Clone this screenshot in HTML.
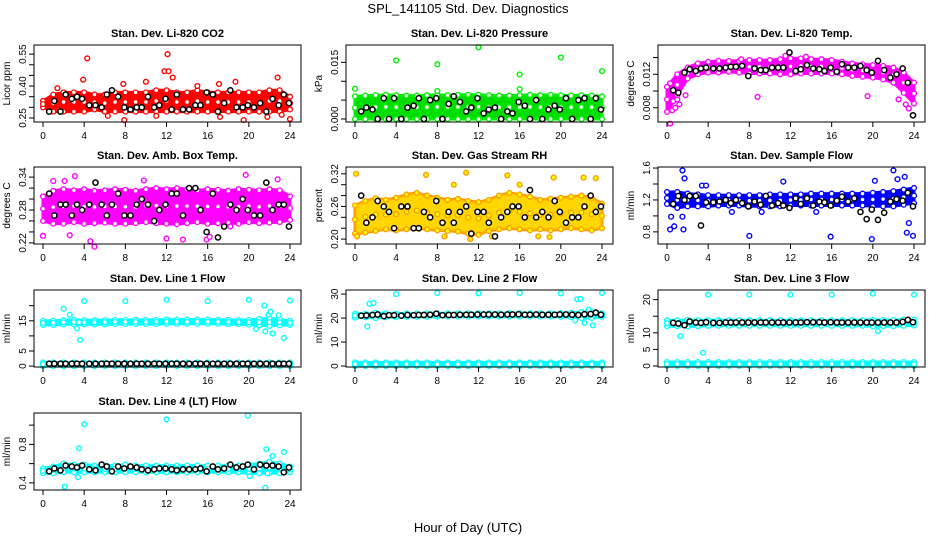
<!DOCTYPE html>
<html><head><meta charset="utf-8">
<style>
html,body{margin:0;padding:0;background:#fff;}
svg{display:block;font-family:"Liberation Sans",sans-serif;}
</style></head>
<body>
<svg id="chart" width="936" height="540" viewBox="0 0 936 540" xmlns="http://www.w3.org/2000/svg">
<rect x="0" y="0" width="936" height="540" fill="#fff"/>
<text x="468" y="13" font-size="13" text-anchor="middle">SPL_141105  Std. Dev. Diagnostics</text>
<text x="468" y="532" font-size="13" text-anchor="middle">Hour of Day (UTC)</text>
</svg>
<script>
// ---- shared data ----
const xTicks = [0,4,8,12,16,20,24];
const bandHours = [0,1,2,3,4,5,6,7,8,9,10,11,12,13,14,15,16,17,18,19,20,21,22,23,24];
const blackHours = [0.6,1.1,1.7,2.2,2.8,3.3,3.8,4.5,5.1,5.7,6.2,6.7,7.3,7.9,8.5,9.1,9.6,10.2,10.8,11.3,11.9,12.5,13.0,13.6,14.2,14.8,15.3,15.9,16.5,17.0,17.6,18.2,18.8,19.4,19.9,20.5,21.1,21.7,22.3,22.9,23.4,23.9];

// CO2
const co2Lo = [0.30,0.28,0.28,0.28,0.28,0.29,0.28,0.28,0.28,0.28,0.28,0.28,0.28,0.28,0.28,0.28,0.28,0.28,0.28,0.28,0.28,0.28,0.28,0.28,0.29];
const co2Hi = [0.33,0.36,0.37,0.37,0.37,0.36,0.36,0.37,0.37,0.37,0.37,0.38,0.38,0.37,0.37,0.38,0.37,0.37,0.37,0.37,0.37,0.37,0.38,0.38,0.35];
const co2OutX = [4.3,12.1,11.8,12.2,3.9,10,12.6,7.8,7.9,19.5,24,22.8,17.1,18.7,6.3,11,17.2,21.8,23.2,1.4,15];
const co2OutY = [0.53,0.55,0.47,0.47,0.43,0.42,0.44,0.41,0.24,0.24,0.245,0.44,0.41,0.42,0.26,0.26,0.255,0.255,0.265,0.39,0.40];
const co2Black = [0.28,0.33,0.28,0.36,0.34,0.35,0.34,0.31,0.31,0.30,0.36,0.38,0.35,0.30,0.29,0.30,0.30,0.35,0.30,0.31,0.34,0.29,0.36,0.29,0.29,0.31,0.31,0.37,0.36,0.28,0.32,0.38,0.30,0.30,0.31,0.30,0.32,0.28,0.34,0.31,0.36,0.32];
const co2Ticks = [0.25,0.30,0.35,0.40,0.45,0.50,0.55];
const co2Labels = ["0.25","","","0.40","","","0.55"];

// Pressure
const presLo = [0,0,0,0,0,0,0,0,0,0,0,0,0,0,0,0,0,0,0,0,0,0,0,0,0];
const presHi = [0.0060,0.0062,0.0063,0.0064,0.0063,0.0062,0.0062,0.0063,0.0064,0.0063,0.0064,0.0064,0.0064,0.0063,0.0062,0.0062,0.0063,0.0064,0.0063,0.0064,0.0063,0.0062,0.0063,0.0062,0.0060];
const presOutX = [0,4,8,12,16,20,24,8,16];
const presOutY = [0.008,0.0155,0.0145,0.019,0.0118,0.0163,0.0127,0.0074,0.0079];
const presBlack = [0.002,0.003,0.0025,0.000,0.0055,0.000,0.0055,0.000,0.003,0.0035,0.0055,0.000,0.005,0.0055,0.000,0.004,0.006,0.0045,0.002,0.003,0.0055,0.0015,0.0025,0.003,0.000,0.002,0.0015,0.0045,0.0035,0.000,0.005,0.000,0.0025,0.0035,0.0025,0.0055,0.000,0.005,0.0055,0.000,0.0055,0.0025];
const presTicks = [0,0.005,0.010,0.015];
const presLabels = ["0.000","","","0.015"];

// Li-820 Temp
const tempLo = [0.0075,0.0095,0.0115,0.0120,0.0122,0.0122,0.0123,0.0122,0.0121,0.0121,0.0121,0.0120,0.0120,0.0121,0.0121,0.0121,0.0121,0.0120,0.0118,0.0117,0.0116,0.0114,0.0110,0.0098,0.0085];
const tempHi = [0.0105,0.0120,0.0128,0.0133,0.0135,0.0136,0.0136,0.0136,0.0137,0.0137,0.0137,0.0138,0.0139,0.0139,0.0138,0.0138,0.0137,0.0135,0.0133,0.0132,0.0131,0.0130,0.0128,0.0122,0.0110];
const tempOutX = [0.3,0.5,0.8,0.6,1.0,0.3,1.2,8.8,7.2,11.5,13.5,19.5,22.5,23.5,23.2,24,1.8];
const tempOutY = [0.0061,0.0077,0.0080,0.0088,0.0090,0.0109,0.0084,0.0093,0.0138,0.0142,0.0141,0.0094,0.0090,0.0079,0.0084,0.0097,0.0095];
const tempBlack = [0.0101,0.0098,0.0122,0.0126,0.0124,0.0127,0.0128,0.0127,0.0127,0.0128,0.0129,0.0129,0.0130,0.0118,0.0127,0.0125,0.0125,0.0128,0.0128,0.0128,0.0146,0.0124,0.0126,0.0131,0.0127,0.0126,0.0124,0.0128,0.0123,0.0132,0.0128,0.0128,0.0130,0.0125,0.0122,0.0136,0.0125,0.0116,0.0120,0.0127,0.0110,0.0071];
const tempTicks = [0.008,0.010,0.012,0.014];
const tempLabels = ["0.008","","0.012",""];

// Amb box temp
const ambLo = [0.260,0.255,0.255,0.258,0.255,0.256,0.257,0.255,0.255,0.256,0.258,0.256,0.255,0.254,0.256,0.258,0.255,0.256,0.257,0.255,0.258,0.256,0.257,0.258,0.262];
const ambHi = [0.305,0.315,0.318,0.316,0.318,0.315,0.316,0.318,0.317,0.315,0.318,0.320,0.318,0.320,0.318,0.316,0.318,0.317,0.315,0.318,0.317,0.316,0.318,0.316,0.305];
const ambOutX = [0,4.6,5,2.6,3.1,1,9.8,19.7,22.8,12,15.9,16.2,13.6,18.2,2.1];
const ambOutY = [0.233,0.223,0.213,0.234,0.342,0.333,0.334,0.344,0.336,0.228,0.226,0.231,0.226,0.250,0.333];
const ambBlack = [0.31,0.27,0.29,0.29,0.27,0.29,0.28,0.29,0.33,0.29,0.27,0.29,0.31,0.27,0.27,0.29,0.30,0.29,0.26,0.28,0.29,0.31,0.31,0.27,0.32,0.32,0.28,0.24,0.31,0.23,0.25,0.29,0.28,0.30,0.28,0.27,0.27,0.33,0.28,0.29,0.29,0.25];
const ambTicks = [0.22,0.24,0.26,0.28,0.30,0.32,0.34];
const ambLabels = ["0.22","","","0.28","","","0.34"];

// Gas stream RH
const rhLo = [0.210,0.212,0.215,0.218,0.216,0.218,0.220,0.218,0.216,0.215,0.214,0.210,0.208,0.215,0.218,0.220,0.218,0.216,0.218,0.216,0.218,0.220,0.218,0.216,0.220];
const rhHi = [0.262,0.270,0.275,0.272,0.276,0.282,0.285,0.280,0.276,0.272,0.274,0.270,0.268,0.272,0.280,0.285,0.282,0.278,0.272,0.274,0.276,0.278,0.280,0.276,0.265];
const rhOutX = [0.1,6.9,10.8,14.8,19.3,22.2,23.4,9.6,16,11.2,13.3,17.8,18.9,8.7,0.2];
const rhOutY = [0.320,0.318,0.322,0.317,0.313,0.313,0.312,0.300,0.300,0.200,0.205,0.205,0.204,0.205,0.205];
const rhBlack = [0.28,0.23,0.24,0.27,0.26,0.25,0.22,0.26,0.26,0.22,0.22,0.25,0.24,0.27,0.23,0.25,0.23,0.25,0.26,0.21,0.25,0.25,0.23,0.205,0.24,0.25,0.26,0.26,0.24,0.29,0.24,0.25,0.24,0.27,0.25,0.23,0.24,0.24,0.26,0.28,0.25,0.26];
const rhTicks = [0.20,0.22,0.24,0.26,0.28,0.30,0.32];
const rhLabels = ["0.20","","","0.26","","","0.32"];

// Sample flow
const sfLo = [1.15,1.10,1.12,1.12,1.12,1.13,1.13,1.13,1.12,1.12,1.12,1.12,1.13,1.13,1.13,1.13,1.13,1.13,1.13,1.13,1.12,1.12,1.12,1.14,1.16];
const sfHi = [1.30,1.30,1.28,1.27,1.26,1.26,1.26,1.26,1.26,1.26,1.27,1.27,1.27,1.27,1.28,1.28,1.28,1.28,1.28,1.28,1.29,1.30,1.31,1.33,1.35];
const sfOutX = [1.5,1.7,3.4,3.8,0.3,0.7,1.6,0.4,1.5,8,15.9,19.9,22,22.4,23.1,23.5,23.3,23.9,20.2,11.3,14.5,9.2,6.3];
const sfOutY = [1.57,1.47,1.38,1.38,0.83,0.87,0.83,0.99,0.99,0.75,0.74,0.71,1.57,1.46,1.49,0.91,0.79,0.75,1.44,1.43,1.05,1.05,1.05];
const sfBlack = [1.15,1.25,1.2,1.25,1.25,0.88,1.17,1.17,1.18,1.2,1.16,1.2,1.16,1.12,1.18,1.14,1.25,1.13,1.16,1.13,1.1,1.22,1.15,1.22,1.13,1.18,1.17,1.13,1.19,1.24,1.18,1.22,1.05,0.96,1.08,0.95,1.04,1.18,1.21,1.19,1.29,1.12];
const sfTicks = [0.8,1.0,1.2,1.4,1.6];
const sfLabels = ["0.8","","1.2","","1.6"];

// Line 1
const l1Lo = [13.6,13.6,13.8,13.8,13.8,13.8,13.8,13.9,13.9,13.9,13.9,13.9,14.0,14.0,14.0,14.0,14.0,14.0,13.9,13.9,13.7,13.5,13.3,13.5,13.6];
const l1Hi = [15.0,15.0,15.2,15.3,15.2,15.2,15.2,15.3,15.3,15.3,15.3,15.3,15.4,15.4,15.4,15.4,15.4,15.3,15.3,15.2,15.3,15.6,15.8,15.5,15.0];
const l1ZeroHi = [1.2,1.2,1.2,1.2,1.2,1.2,1.2,1.2,1.2,1.2,1.2,1.2,1.2,1.2,1.2,1.2,1.2,1.2,1.2,1.2,1.2,1.2,1.2,1.2,1.2];
const l1OutX = [2.6,3.5,3.3,3.6,2,4,8,12,16,20,24,21.5,21.9,22.1,21.6,22.3,23.4,22.9,20.7];
const l1OutY = [17,14.5,12.5,8.7,19,21.5,21.5,22,21.5,22,21.7,20,17,18,11.5,10.8,9.3,16.8,12.3];
const l1Black = [0.8,0.8,0.8,0.8,0.8,0.8,0.8,0.8,0.8,0.8,0.8,0.8,0.8,0.8,0.8,0.8,0.8,0.8,0.8,0.8,0.8,0.8,0.8,0.8,0.8,0.8,0.8,0.8,0.8,0.8,0.8,0.8,0.8,0.8,0.8,0.8,0.8,0.8,0.8,0.8,0.8,0.8];
const l1Ticks = [0,5,10,15,20];
const l1Labels = ["0","5","","15",""];

// Line 2
const l2Lo = [20.2,20.3,20.0,20.3,20.4,20.5,20.5,20.5,20.6,20.6,20.6,20.6,20.6,20.6,20.6,20.6,20.6,20.6,20.6,20.6,20.5,20.4,20.0,20.0,20.5];
const l2Hi = [21.8,21.8,22.2,22.0,21.9,21.9,21.9,22.0,22.0,22.0,22.0,22.0,22.0,22.0,22.0,22.1,22.1,22.0,22.0,22.0,22.0,22.2,22.5,22.6,22.0];
const l2ZeroHi = [1.5,1.5,1.5,1.5,1.5,1.5,1.5,1.5,1.5,1.5,1.5,1.5,1.5,1.5,1.5,1.5,1.5,1.5,1.5,1.5,1.5,1.5,1.5,1.5,1.5];
const l2OutX = [1.4,1.8,1.2,4,8,12,16,20,24,21.6,21.9,21.4,22.3,23.1,22.7];
const l2OutY = [26,26.3,16.5,30,30.5,30.3,30.5,30.3,30.5,27.8,28,19,18,17,23.5];
const l2Black = [21.0,21.1,21.3,21.5,20.8,21.2,21.2,21.0,21.3,21.2,21.3,21.3,21.4,21.8,21.2,21.3,21.3,21.4,21.4,21.4,21.5,21.5,21.5,21.5,21.4,21.5,21.5,21.6,21.4,21.4,21.5,21.4,21.4,21.4,21.5,21.5,21.4,21.3,21.6,21.7,22.3,21.4];
const l2Ticks = [0,10,20,30];
const l2Labels = ["0","10","20","30"];

// Line 3
const l3Lo = [12.0,12.0,11.9,12.0,12.1,12.1,12.1,12.1,12.1,12.1,12.1,12.1,12.1,12.1,12.1,12.1,12.1,12.1,12.1,12.1,11.9,12.0,12.0,12.1,12.2];
const l3Hi = [13.8,13.8,13.9,13.8,13.8,13.8,13.8,13.8,13.8,13.8,13.8,13.8,13.8,13.8,13.8,13.8,13.8,13.8,13.8,13.8,13.9,13.9,13.9,14.0,14.0];
const l3ZeroHi = [1.2,1.2,1.2,1.2,1.2,1.2,1.2,1.2,1.2,1.2,1.2,1.2,1.2,1.2,1.2,1.2,1.2,1.2,1.2,1.2,1.2,1.2,1.2,1.2,1.2];
const l3OutX = [1.3,3.5,4,8,12,16,20,24,20.5];
const l3OutY = [9,4,21.5,21.5,21.5,21.5,21.8,21.5,10.5];
const l3Black = [13.0,12.8,12.3,13.4,13.1,13.0,13.2,13.0,13.0,13.1,13.1,13.1,13.1,13.1,13.1,13.1,13.1,13.1,13.1,13.1,13.1,13.1,13.1,13.2,13.2,13.2,13.1,13.2,13.1,13.1,13.1,13.1,13.1,13.1,13.1,13.1,13.1,13.1,13.1,13.3,13.9,13.2];
const l3Ticks = [0,5,10,15,20];
const l3Labels = ["0","5","10","","20"];

// Line 4
const l4Lo = [0.50,0.50,0.51,0.51,0.51,0.51,0.51,0.51,0.51,0.51,0.51,0.51,0.51,0.51,0.51,0.51,0.51,0.51,0.51,0.51,0.50,0.50,0.50,0.50,0.51];
const l4Hi = [0.55,0.57,0.60,0.59,0.59,0.58,0.58,0.58,0.59,0.58,0.58,0.58,0.58,0.58,0.58,0.58,0.58,0.58,0.58,0.58,0.59,0.60,0.62,0.60,0.57];
const l4OutX = [4,3.5,3.4,2.1,12,19.9,21.6,21.7,21.8,22.3,23.4,20.1];
const l4OutY = [1.01,0.76,0.46,0.36,1.06,1.10,0.35,0.75,0.50,0.68,0.72,0.47];
const l4Black = [0.52,0.55,0.53,0.58,0.57,0.56,0.58,0.54,0.53,0.59,0.57,0.52,0.57,0.55,0.57,0.56,0.54,0.53,0.54,0.55,0.55,0.54,0.53,0.54,0.54,0.54,0.55,0.52,0.57,0.54,0.55,0.59,0.56,0.57,0.59,0.54,0.59,0.58,0.58,0.57,0.51,0.56];
const l4Ticks = [0.4,0.6,0.8,1.0];
const l4Labels = ["0.4","","0.8",""];

// ---- drawing ----
const NS = "http://www.w3.org/2000/svg";
const svg = document.getElementById("chart");
function mk(tag, attrs, parent){
  const e = document.createElementNS(NS, tag);
  for (const k in attrs) e.setAttribute(k, attrs[k]);
  (parent||svg).appendChild(e);
  return e;
}
const colX = [34,346,658];
const rowY = [45,167,290,413];
const PW = 267, PH = 77;

const panels = [
 {name:"co2",title:"Stan. Dev. Li-820 CO2",ylab:"Licor ppm",c:0,r:0,ymin:0.231,ymax:0.593,col:"#ff0000",fill:"#ff0000",bands:[[co2Lo,co2Hi]],ox:co2OutX,oy:co2OutY,blk:co2Black,ticks:co2Ticks,labels:co2Labels},
 {name:"pressure",title:"Stan. Dev. Li-820 Pressure",ylab:"kPa",c:1,r:0,ymin:-0.0008,ymax:0.0196,col:"#00ee00",fill:"#00dd00",bands:[[presLo,presHi]],ox:presOutX,oy:presOutY,blk:presBlack,ticks:presTicks,labels:presLabels},
 {name:"li820-temp",title:"Stan. Dev. Li-820 Temp.",ylab:"degrees C",c:2,r:0,ymin:0.0063,ymax:0.0155,col:"#ff00ff",fill:"#ff00ff",bands:[[tempLo,tempHi]],ox:tempOutX,oy:tempOutY,blk:tempBlack,ticks:tempTicks,labels:tempLabels},
 {name:"amb-box-temp",title:"Stan. Dev. Amb. Box Temp.",ylab:"degrees C",c:0,r:1,ymin:0.218,ymax:0.3585,col:"#ff00ff",fill:"#ff00ff",bands:[[ambLo,ambHi]],ox:ambOutX,oy:ambOutY,blk:ambBlack,ticks:ambTicks,labels:ambLabels},
 {name:"gas-stream-rh",title:"Stan. Dev. Gas Stream RH",ylab:"percent",c:1,r:1,ymin:0.191,ymax:0.3325,col:"#ff9900",fill:"#ffc400",inner:"#ffff00",bands:[[rhLo,rhHi]],ox:rhOutX,oy:rhOutY,blk:rhBlack,ticks:rhTicks,labels:rhLabels},
 {name:"sample-flow",title:"Stan. Dev. Sample Flow",ylab:"ml/min",c:2,r:1,ymin:0.648,ymax:1.613,col:"#0000ff",fill:"#0000ff",bands:[[sfLo,sfHi]],ox:sfOutX,oy:sfOutY,blk:sfBlack,ticks:sfTicks,labels:sfLabels},
 {name:"line1-flow",title:"Stan. Dev. Line 1 Flow",ylab:"ml/min",c:0,r:2,ymin:-0.3,ymax:25.2,col:"#00ffff",fill:"#00ffff",bands:[[l1Lo,l1Hi],[presLo,l1ZeroHi]],ox:l1OutX,oy:l1OutY,blk:l1Black,ticks:l1Ticks,labels:l1Labels},
 {name:"line2-flow",title:"Stan. Dev. Line 2 Flow",ylab:"ml/min",c:1,r:2,ymin:-0.4,ymax:31.7,col:"#00ffff",fill:"#00ffff",bands:[[l2Lo,l2Hi],[presLo,l2ZeroHi]],ox:l2OutX,oy:l2OutY,blk:l2Black,ticks:l2Ticks,labels:l2Labels},
 {name:"line3-flow",title:"Stan. Dev. Line 3 Flow",ylab:"ml/min",c:2,r:2,ymin:-0.3,ymax:22.9,col:"#00ffff",fill:"#00ffff",bands:[[l3Lo,l3Hi],[presLo,l3ZeroHi]],ox:l3OutX,oy:l3OutY,blk:l3Black,ticks:l3Ticks,labels:l3Labels},
 {name:"line4-flow",title:"Stan. Dev. Line 4 (LT) Flow",ylab:"ml/min",c:0,r:3,ymin:0.326,ymax:1.126,col:"#00ffff",fill:"#00ffff",bands:[[l4Lo,l4Hi]],ox:l4OutX,oy:l4OutY,blk:l4Black,ticks:l4Ticks,labels:l4Labels}
];

panels.forEach(p => {
  const L = colX[p.c], T = rowY[p.r], B = T + PH, R = L + PW;
  const xs = v => L + 9 + v * (247 / 24);
  const ys = v => B - (v - p.ymin) / (p.ymax - p.ymin) * PH;
  const g = mk("g", {});
  
  

  const t = mk("text", {x:(L+R)/2, y:T-8, "font-size":11, "font-weight":"bold", "text-anchor":"middle"}, g);
  t.textContent = p.title;
  
  

  const clip = mk("g", {}, g);
  
  

  p.bands.forEach(b => {
    const lo = b[0], hi = b[1];
    let d = "";
    bandHours.forEach((h,i) => { d += (i ? "L" : "M") + xs(h).toFixed(1) + "," + ys(hi[i]).toFixed(1); });
    for (let i = bandHours.length - 1; i >= 0; i--) d += "L" + xs(bandHours[i]).toFixed(1) + "," + ys(lo[i]).toFixed(1);
    d += "Z";
    const band = mk("path", {d:d, fill:p.fill, stroke:p.col, "stroke-width":3, "stroke-linejoin":"round"}, clip);
    
    
    if (p.inner) mk("path", {d:d, fill:p.inner, opacity:0.3}, clip);
    bandHours.forEach((h,i) => {
      [lo[i], hi[i], (lo[i]+hi[i])/2].forEach(v => {
        const c = mk("circle", {cx:xs(h), cy:ys(v), r:2.4, fill:p.inner||"#fff", stroke:p.col, "stroke-width":1.3}, clip);
        
        
      });
    });
  });
  p.ox.forEach((xv,i) => {
    const c = mk("circle", {cx:xs(xv), cy:ys(p.oy[i]), r:2.4, fill:p.inner||"#fff", stroke:p.col, "stroke-width":1.4}, clip);
    
    
  });
  p.blk.forEach((v,i) => {
    const c = mk("circle", {cx:xs(blackHours[i]), cy:ys(v), r:2.6, fill:"#fff", stroke:"#000", "stroke-width":1.5}, clip);
    
    
  });

  const box = mk("rect", {x:L, y:T, width:PW, height:PH, fill:"none", stroke:"#000", "stroke-width":1}, g);
  
  

  const xa = mk("g", {}, g);
  
  
  xTicks.forEach(v => {
    mk("line", {x1:xs(v), x2:xs(v), y1:B, y2:B+5, stroke:"#000"}, xa);
    const tl = mk("text", {x:xs(v), y:B+17, "font-size":10, "text-anchor":"middle"}, xa);
    tl.textContent = v;
    
    
  });

  const ya = mk("g", {}, g);
  
  
  p.ticks.forEach((v,i) => {
    const yy = ys(v);
    mk("line", {x1:L-5, x2:L, y1:yy, y2:yy, stroke:"#000"}, ya);
    if (p.labels[i]) {
      const tl = mk("text", {x:0, y:0, "font-size":10, "text-anchor":"middle", transform:"translate(" + (L-8) + "," + yy + ") rotate(-90)"}, ya);
      tl.textContent = p.labels[i];
      
      
    }
  });
  const yt = mk("text", {x:0, y:0, "font-size":10, "text-anchor":"middle", transform:"translate(" + (L-24) + "," + (T+PH/2) + ") rotate(-90)"}, g);
  yt.textContent = p.ylab;
  
  
});
</script>
</body></html>
